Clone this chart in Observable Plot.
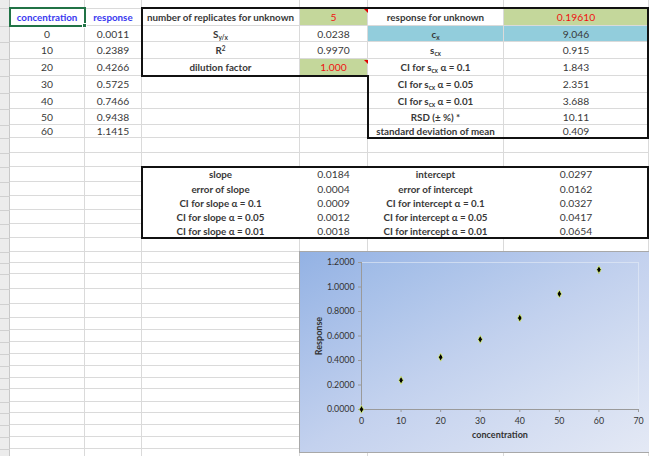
<!DOCTYPE html>
<html>
<head>
<meta charset="utf-8">
<script src="https://cdn.jsdelivr.net/npm/d3@7"></script>
<script src="https://cdn.jsdelivr.net/npm/@observablehq/plot@0.6"></script>
<style>
  html, body { margin: 0; padding: 0; background: #fff; }
  #sheet { position: relative; width: 649px; height: 456px; overflow: hidden; background: #fff; font-family: Lato, "Open Sans", sans-serif; }
  .cell { position: absolute; box-sizing: border-box; border-right: 1px solid #dadada; border-bottom: 1px solid #dadada;
          display: flex; align-items: center; justify-content: center; font-size: 10.3px; color: #383838; white-space: nowrap; }
  .cell > span { display: inline-block; }
  .b { font-weight: bold; font-size: 9.8px; }
  .blue { color: #3a3af0; }
  .red { color: #f01010; }
  .green { background: #c4d79b; }
  .cyan { background: #92cddc; }
  .noline { border-color: transparent; }
  .thick { position: absolute; background: #111; }
  .tri { position: absolute; width: 0; height: 0; border-left: 4px solid transparent; border-top: 4px solid #e00000; }
  sub { font-size: 6.5px; vertical-align: -2px; line-height: 0; }
  sup { font-size: 6.5px; vertical-align: 3px; line-height: 0; }
  #chart { position: absolute; left: 299px; top: 251px; }
  #chart svg { border: 1px solid #a8a8a8; border-right: none; display: block; }
  #chart [aria-label$="axis label"] text { font-weight: bold; font-size: 9px; }
</style>
</head>
<body>
<div id="sheet"></div>
<script>
// ---- chart data ----
const concentration = [0, 10, 20, 30, 40, 50, 60];
const response = [0.0011, 0.2389, 0.4266, 0.5725, 0.7466, 0.9438, 1.1415];
const xTicks = [0, 10, 20, 30, 40, 50, 60, 70];
const yTicks = [0, 0.2, 0.4, 0.6, 0.8, 1.0, 1.2];

// ---- sheet text ----
const statLabelsTop = ["number of replicates for unknown", "S<sub>y/x</sub>", "R<sup>2</sup>", "dilution factor"];
const statValuesTop = ["5", "0.0238", "0.9970", "1.000"];
const unknownLabels = ["response for unknown", "c<sub>x</sub>", "s<sub>cx</sub>", "CI for s<sub>cx</sub> α = 0.1",
  "CI for s<sub>cx</sub> α = 0.05", "CI for s<sub>cx</sub> α = 0.01", "RSD (± %) *", "standard deviation of mean"];
const unknownValues = ["0.19610", "9.046", "0.915", "1.843", "2.351", "3.688", "10.11", "0.409"];
const slopeLabels = ["slope", "error of slope", "CI for slope α = 0.1", "CI for slope α = 0.05", "CI for slope α = 0.01"];
const slopeValues = ["0.0184", "0.0004", "0.0009", "0.0012", "0.0018"];
const interceptLabels = ["intercept", "error of intercept", "CI for intercept α = 0.1", "CI for intercept α = 0.05", "CI for intercept α = 0.01"];
const interceptValues = ["0.0297", "0.0162", "0.0327", "0.0417", "0.0654"];

// ---- grid geometry ----
const colX = [10, 85, 142, 300, 368, 504, 649];
const rowY = [8, 26, 42, 59, 76, 93, 109, 125, 138, 153, 167, 182, 196, 210, 224, 238, 252, 263, 274, 289, 304, 318, 330, 342, 354, 366, 378, 389, 402, 413, 425, 437, 449, 461];

const sheet = document.getElementById("sheet");
const cells = {};
function el(cls, style, html) {
  const d = document.createElement("div");
  d.className = cls;
  Object.assign(d.style, style);
  if (html !== undefined) d.innerHTML = html;
  sheet.appendChild(d);
  return d;
}
// left header strip
el("", {position: "absolute", left: "0px", top: "0px", width: "10px", height: "456px", background: "#ececec", borderRight: "1px solid #c8c8c8", boxSizing: "border-box"});
for (let r = 0; r < rowY.length; r++) el("", {position: "absolute", left: "0px", top: rowY[r] + "px", width: "10px", height: "1px", background: "#d0d0d0"});
// top strip
for (let c = 0; c < colX.length - 1; c++) el("cell", {left: colX[c] + "px", top: "0px", width: (colX[c + 1] - colX[c]) + "px", height: "9px"});
// grid cells
for (let r = 0; r < rowY.length - 1; r++) {
  for (let c = 0; c < colX.length - 1; c++) {
    cells[(r + 1) + "," + c] = el("cell", {left: colX[c] + "px", top: rowY[r] + "px", width: (colX[c + 1] - colX[c]) + "px", height: (rowY[r + 1] - rowY[r]) + "px"});
  }
}
function set(row, col, html, cls) {
  const d = cells[row + "," + col];
  d.innerHTML = "<span>" + html + "</span>";
  if (cls) d.className += " " + cls;
}
set(1, 0, "concentration", "b blue");
set(1, 1, "response", "b blue");
concentration.forEach((v, i) => { set(i + 2, 0, String(v)); set(i + 2, 1, response[i].toFixed(4)); });
statLabelsTop.forEach((t, i) => set(i + 1, 2, t, "b"));
statValuesTop.forEach((t, i) => set(i + 1, 3, t, (i === 0 || i === 3) ? "red green" : ""));
unknownLabels.forEach((t, i) => set(i + 1, 4, t, "b" + (i === 1 ? " cyan" : "")));
unknownValues.forEach((t, i) => set(i + 1, 5, t, i === 0 ? "red green" : (i === 1 ? "cyan" : "")));
for (let i = 0; i < 5; i++) {
  set(11 + i, 2, slopeLabels[i], "b noline");
  set(11 + i, 3, slopeValues[i], "noline");
  set(11 + i, 4, interceptLabels[i], "b noline");
  set(11 + i, 5, interceptValues[i], "noline");
}
// thick borders
function hline(x1, x2, y) { el("thick", {left: x1 + "px", top: (y - 1) + "px", width: (x2 - x1 + 1) + "px", height: "2px"}); }
function vline(x, y1, y2) { el("thick", {left: (x - 1) + "px", top: (y1 - 1) + "px", width: "2px", height: (y2 - y1 + 2) + "px"}); }
hline(142, 648, 8); vline(142, 8, 76); hline(142, 368, 76); vline(368, 76, 138); hline(368, 648, 138); vline(648, 8, 138);
hline(142, 648, 167); vline(142, 167, 238); hline(142, 648, 238); vline(648, 167, 238);
// active cell selection
el("", {position: "absolute", left: "9px", top: "7px", width: "77px", height: "20px", border: "2px solid #217346", boxSizing: "border-box"});
el("", {position: "absolute", left: "82px", top: "23px", width: "5px", height: "5px", background: "#217346", border: "1px solid #fff", boxSizing: "border-box"});
// comment triangles
el("tri", {left: "364px", top: "9px"});
el("tri", {left: "364px", top: "60px"});

// ---- chart ----
const data = concentration.map((c, i) => ({concentration: c, response: response[i]}));
const plot = Plot.plot({
  width: 350, height: 200,
  marginLeft: 61, marginRight: 12, marginTop: 10, marginBottom: 43,
  style: {background: "linear-gradient(to bottom right, #93b2e4 0%, #c3d1ee 50%, #e4e9f5 100%)", fontFamily: "Lato, sans-serif", fontSize: "8.8px", color: "#333", overflow: "visible"},
  x: {domain: [0, 70]},
  y: {domain: [0, 1.2]},
  marks: [
    Plot.frame({fill: "url(#plotGrad)", stroke: "#e6ecf7", strokeOpacity: 0.6}),
    Plot.axisY({ticks: yTicks, tickFormat: d3.format(".4f"), tickSize: 3, tickPadding: 4, stroke: "#9a9a9a",
      label: "Response", labelAnchor: "center", labelOffset: 46, labelArrow: "none"}),
    Plot.axisX({ticks: xTicks, tickFormat: d3.format("d"), tickSize: 3, tickPadding: 5, stroke: "#9a9a9a",
      label: "concentration", labelAnchor: "center", labelOffset: 28, labelArrow: "none"}),
    Plot.ruleX([0], {stroke: "#9a9a9a"}),
    Plot.ruleY([0], {stroke: "#9a9a9a"}),
    Plot.dot(data, {x: "concentration", y: "response", symbol: "diamond", r: 2.4, fill: "#000", stroke: "#d9f27a", strokeWidth: 0.9})
  ]
});
d3.select(plot).insert("defs", ":first-child").html(
  '<linearGradient id="plotGrad" x1="0" y1="0" x2="1" y2="1">' +
  '<stop offset="0" stop-color="#9fbbe7"/><stop offset="0.5" stop-color="#c2d1ee"/><stop offset="1" stop-color="#dfe6f4"/></linearGradient>');
const wrap = document.createElement("div");
wrap.id = "chart";
wrap.appendChild(plot);
sheet.appendChild(wrap);
</script>
</body>
</html>
